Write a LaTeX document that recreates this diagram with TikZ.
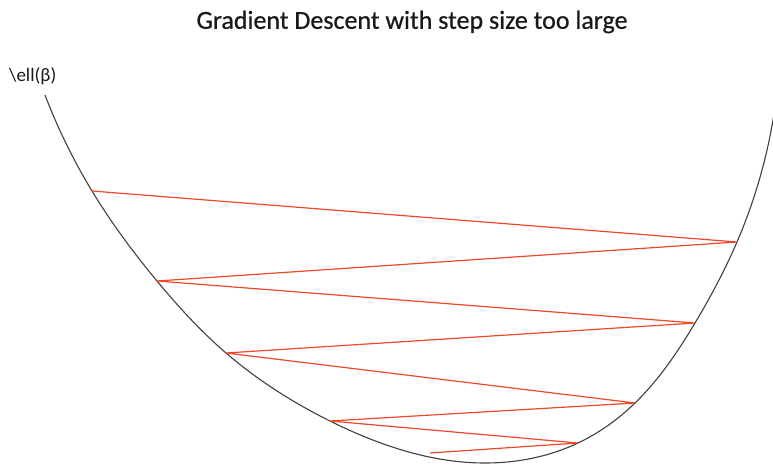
\documentclass[tikz,border=0pt]{standalone}
\usepackage{fontspec}
\setmainfont{Carlito}
\usetikzlibrary{hobby}
\begin{document}
\begin{tikzpicture}[x=1pt,y=-1pt,
  curve/.style={draw=black!75, line width=1.1pt},
  zig/.style={draw={rgb,255:red,238;green,72;blue,40}, line width=1.2pt, line join=miter},
  title/.style={font=\fontsize{26}{30}\selectfont\addfontfeature{FakeBold=0.6}, text=black!90, inner sep=0pt},
  axlabel/.style={font=\fontsize{19}{21}\selectfont, text=black!90, inner sep=0pt, anchor=west}]
\useasboundingbox (0,0) rectangle (773,468);
\node[title] (t) at (412,22) {Gradient Descent with step size too large};
\node[axlabel] (l) at (9,76) {\textbackslash ell(β)};
\coordinate (p1) at (92,191);
\coordinate (p2) at (737,242);
\coordinate (p3) at (157,281);
\coordinate (p4) at (695,323);
\coordinate (p5) at (226,353);
\coordinate (p6) at (635,403);
\coordinate (p7) at (330,421);
\coordinate (p8) at (578,443);
\coordinate (p9) at (430,453);
\coordinate (c0) at (45,95);
\coordinate (cb) at (487,463);
\coordinate (ce) at (777,92);
\begin{scope}
\clip (0,0) rectangle (773,468);
\draw[curve, use Hobby shortcut] (c0) .. (p1) .. (p3) .. (p5) .. (p7) .. (cb) .. (p8) .. (p6) .. (p4) .. (p2) .. (ce);
\end{scope}
\draw[zig] (p1) -- (p2) -- (p3) -- (p4) -- (p5) -- (p6) -- (p7) -- (p8) -- (p9);
\end{tikzpicture}
\end{document}
